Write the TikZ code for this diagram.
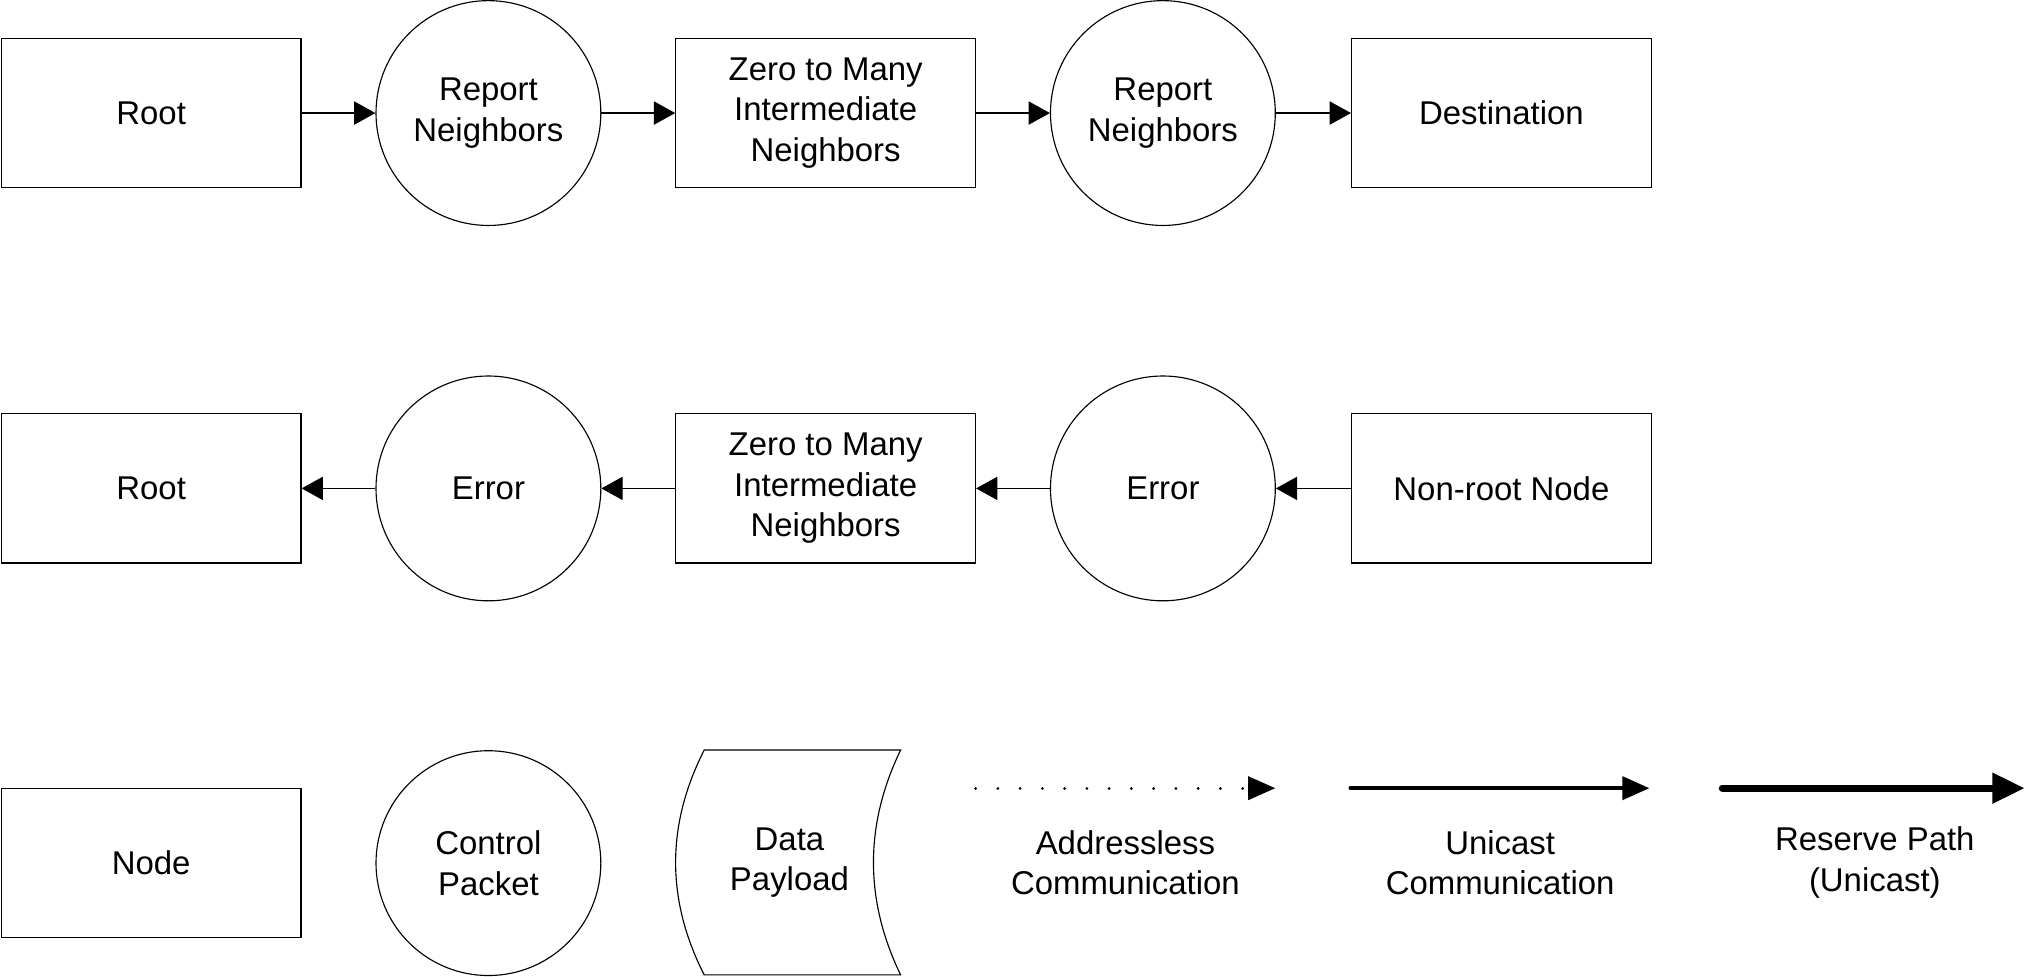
\documentclass[tikz,border=0pt]{standalone}
\usepackage{fontspec}
\setmainfont{Liberation Sans}
\usetikzlibrary{arrows.meta}
\tikzset{
  nodebox/.style={draw, line width=.5pt, minimum width=4.64cm, minimum height=2.31cm,
    inner sep=0pt, align=center, font=\fontsize{14.5}{17.8}\selectfont},
  packet/.style={draw, circle, line width=.5pt, minimum size=3.48cm,
    inner sep=0pt, align=center, font=\fontsize{14.5}{17.8}\selectfont},
  legendtext/.style={align=center, font=\fontsize{14.5}{17.8}\selectfont},
  arr/.style={line width=.5pt, -{Triangle[length=3.3mm, width=3.6mm]}},
}
\begin{document}
\begin{tikzpicture}
    \useasboundingbox (0, 0) rectangle (31.36, 15.12) ;
    % first row: report neighbors
    \begin{scope}
      \node[nodebox] (rootA) at (2.34, 13.37) {Root} ;
      \node[packet] (repA) at (7.56, 13.37) {Report\\Neighbors} ;
      \node[nodebox] (midA) at (12.78, 13.37) {Zero to Many\\Intermediate\\Neighbors} ;
      \node[packet] (repB) at (18, 13.37) {Report\\Neighbors} ;
      \node[nodebox] (dest) at (23.24, 13.37) {Destination} ;
      \draw[arr] (rootA) -- (repA) ;
      \draw[arr] (repA) -- (midA) ;
      \draw[arr] (midA) -- (repB) ;
      \draw[arr] (repB) -- (dest) ;
    \end{scope}
    % second row: error back to the root
    \begin{scope}
      \node[nodebox] (rootB) at (2.34, 7.56) {Root} ;
      \node[packet] (errA) at (7.56, 7.56) {Error} ;
      \node[nodebox] (midB) at (12.78, 7.56) {Zero to Many\\Intermediate\\Neighbors} ;
      \node[packet] (errB) at (18, 7.56) {Error} ;
      \node[nodebox] (nonroot) at (23.24, 7.56) {Non-root Node} ;
      \draw[arr] (nonroot) -- (errB) ;
      \draw[arr] (errB) -- (midB) ;
      \draw[arr] (midB) -- (errA) ;
      \draw[arr] (errA) -- (rootB) ;
    \end{scope}
    % legend
    \begin{scope}
      \node[nodebox] (nodekey) at (2.34, 1.76) {Node} ;
      \node[packet] (packetkey) at (7.56, 1.76) {Control\\Packet} ;
      \draw[line width=.5pt] (10.9, 3.51) -- (13.94, 3.51)
        .. controls (13.38, 2.35) and (13.38, 1.19) .. (13.94, 0.03)
        -- (10.9, 0.03)
        .. controls (10.31, 1.19) and (10.31, 2.35) .. (10.9, 3.51) -- cycle ;
      \node[legendtext] (datakey) at (12.22, 1.77) {Data\\Payload} ;
      \coordinate (dotA) at (15.1, 2.92) ;
      \coordinate (dotB) at (19.74, 2.92) ;
      \draw[line width=1.2pt, dash pattern=on .1pt off 9.7pt, line cap=round,
        -{Triangle[length=4.2mm, width=3.6mm]}] (dotA) -- (dotB) ;
      \node[legendtext] (dotkey) at (17.42, 1.77) {Addressless\\Communication} ;
      \coordinate (uniA) at (20.9, 2.92) ;
      \coordinate (uniB) at (25.53, 2.92) ;
      \draw[line width=1.5pt, line cap=round,
        -{Triangle[length=4.2mm, width=3.6mm]}] (uniA) -- (uniB) ;
      \node[legendtext] (unikey) at (23.22, 1.77) {Unicast\\Communication} ;
      \coordinate (resA) at (26.66, 2.92) ;
      \coordinate (resB) at (31.34, 2.92) ;
      \draw[line width=3.2pt, line cap=round,
        -{Triangle[length=5mm, width=4.5mm]}] (resA) -- (resB) ;
      \node[legendtext] (reskey) at (29.02, 1.77) {Reserve Path\\(Unicast)} ;
    \end{scope}
  \end{tikzpicture}
\end{document}
